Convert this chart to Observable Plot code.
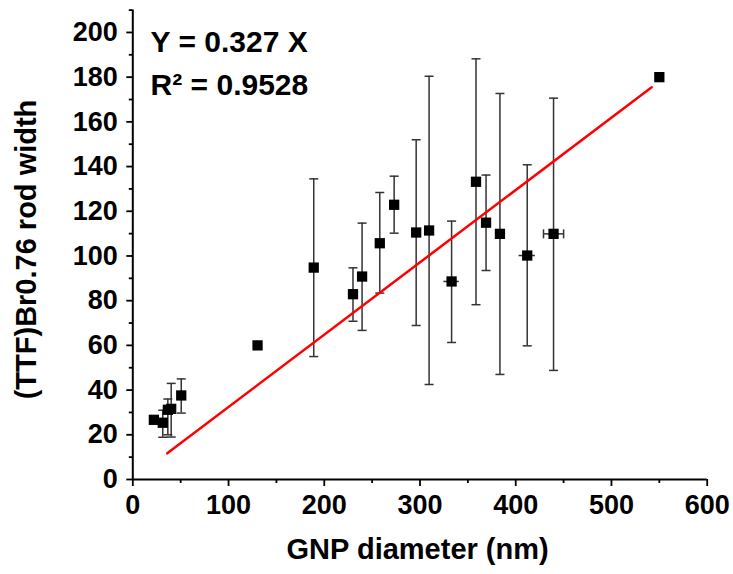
<!DOCTYPE html>
<html>
<head>
<meta charset="utf-8">
<script src="https://cdn.jsdelivr.net/npm/d3@7"></script>
<script src="https://cdn.jsdelivr.net/npm/@observablehq/plot@0.6"></script>
<style>
  html, body { margin: 0; padding: 0; background: #fff; }
  #chart svg { display: block; }
</style>
</head>
<body>
<div id="chart"></div>
<script>
// GNP diameter (nm)
const gnpDiameter = [22, 31.3, 36.6, 40.1, 50.6, 130.3, 189, 230, 239.5, 258, 273, 296, 309.5, 333, 358.5, 369, 383.5, 412, 439.5, 550];
// (TTF)Br0.76 rod width
const rodWidth    = [26.7, 25.4, 31.2, 31.6, 37.6, 60, 94.8, 82.9, 90.8, 105.7, 122.9, 110.5, 111.4, 88.6, 133.2, 114.9, 109.9, 100.2, 109.9, 180];
// vertical error bar ends (null = no bar)
const widthLow    = [null, 18.9, 20, 19, 29.7, null, 55, 70.8, 66.7, 83.4, 110.2, 68.9, 42.5, 61.3, 78.2, 93.5, 47, 59.8, 48.8, null];
const widthHigh   = [null, 31, 36, 43, 45, null, 134.5, 94.7, 114.7, 128.4, 135.7, 152, 180.4, 115.6, 188.2, 136.2, 172.7, 140.8, 170.6, null];
// horizontal error bar ends (null = no bar)
const diamLow     = [null, null, null, null, null, null, null, null, null, null, null, null, null, 325, null, null, null, 403.5, 429, null];
const diamHigh    = [null, null, null, null, null, null, null, null, null, null, null, null, null, 341, null, null, null, 420.5, 450, null];
// fitted line Y = 0.327 X (drawn end points)
const fitX = [36, 542];
const fitY = [11.7, 175.5];

const xTicks = [0, 100, 200, 300, 400, 500, 600];
const xMinor = [50, 150, 250, 350, 450, 550];
const yTicks = [0, 20, 40, 60, 80, 100, 120, 140, 160, 180, 200];
const yMinor = [10, 30, 50, 70, 90, 110, 130, 150, 170, 190, 210];

const rows = gnpDiameter.map((x, i) => ({
  x, y: rodWidth[i], lo: widthLow[i], hi: widthHigh[i], xlo: diamLow[i], xhi: diamHigh[i]
}));
const fit = fitX.map((x, i) => ({x, y: fitY[i]}));

const hCap = { draw(ctx, size) { const r = Math.sqrt(size / Math.PI); ctx.moveTo(-r, 0); ctx.lineTo(r, 0); } };
const vCap = { draw(ctx, size) { const r = Math.sqrt(size / Math.PI); ctx.moveTo(0, -r); ctx.lineTo(0, r); } };

const barColor = "#333";
const font = "'Liberation Sans', Arial, Helvetica, sans-serif";

const vBars = rows.filter(d => d.lo != null);
const hBars = rows.filter(d => d.xlo != null);

const chart = Plot.plot({
  width: 733,
  height: 574,
  marginLeft: 132.3,
  marginRight: 26.3,
  marginTop: 9.6,
  marginBottom: 95,
  style: { fontFamily: font, fontWeight: "bold", color: "#000", background: "#fff" },
  x: { domain: [0, 600] },
  y: { domain: [0, 210] },
  marks: [
    // axes
    Plot.axisY({ ticks: yTicks, tickSize: 6, tickPadding: 9, fontSize: 27, fontWeight: "bold", strokeWidth: 1.8, label: null }),
    Plot.axisY({ ticks: yMinor, tickSize: 3.5, text: null, strokeWidth: 1.8, label: null }),
    Plot.axisX({ ticks: xTicks, tickSize: 7, tickPadding: 8, fontSize: 27, fontWeight: "bold", strokeWidth: 1.8, label: null }),
    Plot.axisX({ ticks: xMinor, tickSize: 4, text: null, strokeWidth: 1.8, label: null }),
    Plot.ruleX([0], { y1: 0, y2: 210, strokeWidth: 2 }),
    Plot.ruleY([0], { x1: 0, x2: 600, strokeWidth: 2 }),
    // error bars
    Plot.ruleX(vBars, { x: "x", y1: "lo", y2: "hi", stroke: barColor, strokeWidth: 1.5 }),
    Plot.dot(vBars, { x: "x", y: "lo", symbol: hCap, r: 4.5, stroke: barColor, strokeWidth: 1.5, fill: "none" }),
    Plot.dot(vBars, { x: "x", y: "hi", symbol: hCap, r: 4.5, stroke: barColor, strokeWidth: 1.5, fill: "none" }),
    Plot.ruleY(hBars, { y: "y", x1: "xlo", x2: "xhi", stroke: barColor, strokeWidth: 1.5 }),
    Plot.dot(hBars.filter(d => d.xhi - d.xlo > 18), { x: "xlo", y: "y", symbol: vCap, r: 4.5, stroke: barColor, strokeWidth: 1.5, fill: "none" }),
    Plot.dot(hBars.filter(d => d.xhi - d.xlo > 18), { x: "xhi", y: "y", symbol: vCap, r: 4.5, stroke: barColor, strokeWidth: 1.5, fill: "none" }),
    // fit line
    Plot.line(fit, { x: "x", y: "y", stroke: "#ff0000", strokeWidth: 2.5 }),
    // data points
    Plot.dot(rows, { x: "x", y: "y", symbol: "square", r: 5.8, fill: "#000", stroke: "none" }),
    // annotations
    Plot.text(["Y = 0.327 X"], { x: 18.6, y: 195.5, textAnchor: "start", fontSize: 30, fontWeight: "bold", fill: "#000" }),
    Plot.text(["R² = 0.9528"], { x: 18.6, y: 176.4, textAnchor: "start", fontSize: 30, fontWeight: "bold", fill: "#000" }),
    // axis titles
    Plot.text(["GNP diameter (nm)"], { x: 297.5, y: -31.5, textAnchor: "middle", fontSize: 29, fontWeight: "bold", fill: "#000" }),
    Plot.text(["(TTF)Br0.76 rod width"], { x: -110.3, y: 102.9, rotate: -90, textAnchor: "middle", fontSize: 29, fontWeight: "bold", fill: "#000" })
  ]
});

document.getElementById("chart").appendChild(chart);
</script>
</body>
</html>
